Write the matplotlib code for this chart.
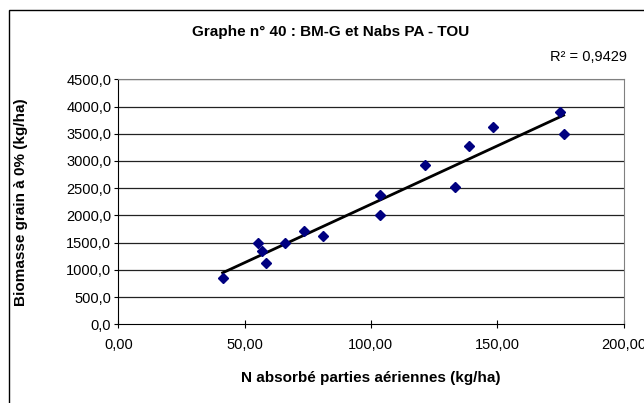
import matplotlib.pyplot as plt
import matplotlib.patches as patches
from matplotlib.ticker import FuncFormatter
import numpy as np

plt.rcParams['font.family'] = ['Liberation Sans', 'DejaVu Sans']

# Données
n_abs = [41.3, 55.3, 56.9, 58.3, 66.1, 73.6, 81.2, 103.6, 103.6,
         121.3, 133.3, 139.0, 148.2, 175.0, 176.3]
biomasse = [850, 1499, 1341, 1120, 1493, 1714, 1628, 2370, 2002,
            2932, 2528, 3281, 3630, 3894, 3490]
x_ticks = [0, 50, 100, 150, 200]
y_ticks = [0, 500, 1000, 1500, 2000, 2500, 3000, 3500, 4000, 4500]
titre = 'Graphe n° 40 : BM-G et Nabs PA - TOU'
r2_texte = 'R² = 0,9429'

# Courbe de tendance linéaire
coef = np.polyfit(n_abs, biomasse, 1)
xt = np.array([min(n_abs), max(n_abs)])
yt = np.polyval(coef, xt)

fig = plt.figure(figsize=(6.44, 4.03), dpi=100)
ax = fig.add_axes([0.1837, 0.1953, 0.7845, 0.6079])

for y in y_ticks[1:]:
    ax.axhline(y, color='#222222', linewidth=0.9, zorder=1)

ax.plot(xt, yt, color='black', linewidth=2, zorder=2)
ax.plot(n_abs, biomasse, linestyle='none', marker='D', markersize=5,
        color='#000080', zorder=3)

ax.set_xlim(0, 200)
ax.set_ylim(0, 4500)
ax.set_xticks(x_ticks)
ax.set_yticks(y_ticks)
ax.xaxis.set_major_formatter(FuncFormatter(lambda v, p: f'{v:.2f}'.replace('.', ',')))
ax.yaxis.set_major_formatter(FuncFormatter(lambda v, p: f'{v:.1f}'.replace('.', ',')))
ax.tick_params(axis='x', direction='inout', length=6, width=0.8, labelsize=10.5, pad=7)
ax.tick_params(axis='y', direction='out', length=3, width=0.8, labelsize=10.5, pad=2)
for lbl in ax.get_xticklabels() + ax.get_yticklabels():
    lbl.set_clip_on(False)

ax.spines['left'].set_color('black')
ax.spines['bottom'].set_color('black')
ax.spines['top'].set_color('#808080')
ax.spines['right'].set_color('#808080')

ax.set_xlabel('N absorbé parties aériennes (kg/ha)', fontsize=11,
              fontweight='bold')
ax.set_ylabel('Biomasse grain à 0% (kg/ha)', fontsize=11,
              fontweight='bold')
ax.xaxis.set_label_coords(0.5, -0.19)
ax.yaxis.set_label_coords(-0.178, 0.5)

fig.text(0.514, 0.9206, titre, ha='center', va='center', fontsize=11,
         fontweight='bold')
fig.text(0.974, 0.8586, r2_texte, ha='right', va='center', fontsize=10.5)

cadre = patches.Rectangle((8.5 / 644, -0.1), 2, 1 - 10 / 403 + 0.1,
                          transform=fig.transFigure, fill=False,
                          edgecolor='black', linewidth=1)
fig.patches.append(cadre)

fig.savefig('out.png', dpi=100)
